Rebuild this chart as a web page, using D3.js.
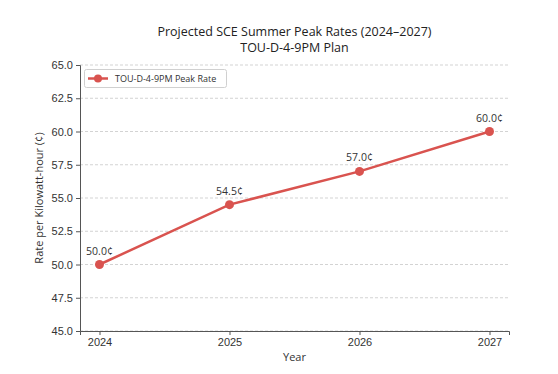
<!DOCTYPE html>
<html><head><meta charset="utf-8">
<script src="https://cdn.jsdelivr.net/npm/d3@7"></script>
<style>body{margin:0;background:#fff;}svg{display:block;font-family:"Open Sans","Noto Sans",sans-serif;}</style>
</head><body>
<svg id="c" width="558" height="374"></svg>
<script>
const years = [2024, 2025, 2026, 2027];
const rates = [50.0, 54.5, 57.0, 60.0];
const yTicks = [45.0, 47.5, 50.0, 52.5, 55.0, 57.5, 60.0, 62.5, 65.0];
const seriesName = "TOU-D-4-9PM Peak Rate";
const titleLines = ["Projected SCE Summer Peak Rates (2024\u20132027)", "TOU-D-4-9PM Plan"];

const color = "#d9534f";
const svg = d3.select("#c");
const pL = 80, pR = 509, pT = 65, pB = 331;
const x = d3.scaleLinear().domain([2023.85, 2027.15]).range([pL, pR]);
const y = d3.scaleLinear().domain([45, 65]).range([pB, pT]);

// grid
svg.append("g").selectAll("line").data(yTicks).join("line")
  .attr("x1", pL).attr("x2", pR)
  .attr("y1", d => y(d)).attr("y2", d => y(d))
  .attr("stroke", "#c8c8c8").attr("stroke-width", 0.8).attr("stroke-dasharray", "3,2");

// axes
const yAxis = svg.append("g").attr("transform", `translate(${pL},0)`)
  .call(d3.axisLeft(y).tickValues(yTicks).tickFormat(d3.format(".1f")).tickSize(4).tickPadding(3));
const xAxis = svg.append("g").attr("transform", `translate(0,${pB})`)
  .call(d3.axisBottom(x).tickValues(years).tickFormat(d3.format("d")).tickSize(4).tickPadding(3));
[yAxis, xAxis].forEach(a => {
  a.select(".domain").attr("stroke", "#555").attr("stroke-width", 1);
  a.selectAll(".tick line").attr("stroke", "#555");
  a.selectAll("text").attr("fill", "#333").attr("font-size", 11).style("font-family", "inherit");
});

// line
const data = years.map((yr, i) => ({yr, v: rates[i]}));
svg.append("path").datum(data)
  .attr("fill", "none").attr("stroke", color).attr("stroke-width", 2.5)
  .attr("d", d3.line().x(d => x(d.yr)).y(d => y(d.v)));
svg.append("g").selectAll("circle").data(data).join("circle")
  .attr("cx", d => x(d.yr)).attr("cy", d => y(d.v)).attr("r", 4.5).attr("fill", color);
svg.append("g").selectAll("text").data(data).join("text")
  .attr("x", d => x(d.yr)).attr("y", d => y(d.v) - 10)
  .attr("text-anchor", "middle").attr("font-size", 10.5).attr("fill", "#333")
  .text(d => d.v.toFixed(1) + "\u00a2");

// titles
svg.append("g").selectAll("text").data(titleLines).join("text")
  .attr("x", (pL + pR) / 2).attr("y", (d, i) => 36 + i * 15.5)
  .attr("text-anchor", "middle").attr("font-size", 12.5).attr("fill", "#222")
  .text(d => d);
svg.append("text").attr("x", (pL + pR) / 2).attr("y", 361)
  .attr("text-anchor", "middle").attr("font-size", 11).attr("fill", "#333").text("Year");
svg.append("text").attr("transform", `translate(43,${(pT + pB) / 2}) rotate(-90)`)
  .attr("text-anchor", "middle").attr("font-size", 11).attr("fill", "#333")
  .text("Rate per Kilowatt-hour (\u00a2)");

// legend
const lg = svg.append("g");
lg.append("rect").attr("x", 84.5).attr("y", 69.5).attr("width", 142).attr("height", 18)
  .attr("rx", 2).attr("fill", "#fff").attr("stroke", "#d0d0d0");
lg.append("line").attr("x1", 88).attr("x2", 108).attr("y1", 78.5).attr("y2", 78.5)
  .attr("stroke", color).attr("stroke-width", 2.5);
lg.append("circle").attr("cx", 98).attr("cy", 78.5).attr("r", 4).attr("fill", color);
lg.append("text").attr("x", 115).attr("y", 82).attr("font-size", 9).attr("fill", "#333").text(seriesName);
</script>
</body></html>
